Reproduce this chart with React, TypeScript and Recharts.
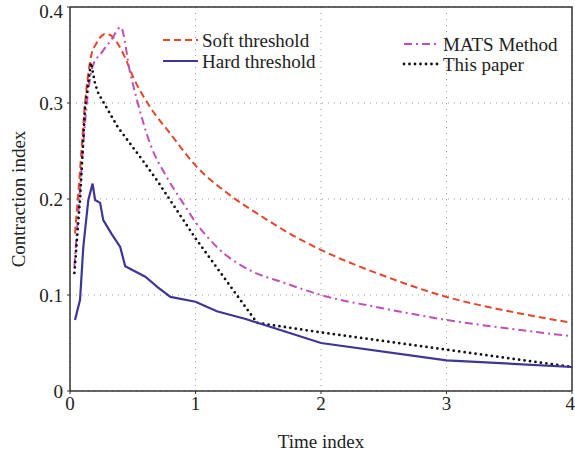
import {
  LineChart,
  Line,
  XAxis,
  YAxis,
  CartesianGrid,
  Label,
} from "recharts";

// Each series has its own x samples
const softThreshold = [
  { x: 0.04, y: 0.164 }, { x: 0.08, y: 0.23 }, { x: 0.12, y: 0.3 },
  { x: 0.17, y: 0.35 }, { x: 0.21, y: 0.362 }, { x: 0.28, y: 0.372 },
  { x: 0.33, y: 0.37 }, { x: 0.38, y: 0.362 }, { x: 0.44, y: 0.347 },
  { x: 0.5, y: 0.328 }, { x: 0.637, y: 0.296 }, { x: 0.8, y: 0.268 },
  { x: 1.0, y: 0.235 }, { x: 1.275, y: 0.204 }, { x: 1.514, y: 0.183 },
  { x: 1.75, y: 0.164 }, { x: 2.0, y: 0.147 }, { x: 2.5, y: 0.12 },
  { x: 3.0, y: 0.098 }, { x: 3.5, y: 0.083 }, { x: 4.0, y: 0.071 },
];

const hardThreshold = [
  { x: 0.04, y: 0.074 }, { x: 0.08, y: 0.095 }, { x: 0.106, y: 0.15 },
  { x: 0.146, y: 0.199 }, { x: 0.18, y: 0.216 }, { x: 0.2, y: 0.199 },
  { x: 0.24, y: 0.196 }, { x: 0.265, y: 0.178 }, { x: 0.33, y: 0.164 },
  { x: 0.4, y: 0.15 }, { x: 0.44, y: 0.13 }, { x: 0.6, y: 0.119 },
  { x: 0.7, y: 0.108 }, { x: 0.8, y: 0.098 }, { x: 1.0, y: 0.093 },
  { x: 1.17, y: 0.083 }, { x: 1.4, y: 0.075 }, { x: 2.0, y: 0.05 },
  { x: 3.0, y: 0.032 }, { x: 4.0, y: 0.025 },
];

const matsMethod = [
  { x: 0.035, y: 0.13 }, { x: 0.08, y: 0.21 }, { x: 0.12, y: 0.28 },
  { x: 0.18, y: 0.338 }, { x: 0.25, y: 0.352 }, { x: 0.33, y: 0.366 },
  { x: 0.404, y: 0.379 }, { x: 0.48, y: 0.331 }, { x: 0.53, y: 0.305 },
  { x: 0.637, y: 0.258 }, { x: 0.77, y: 0.223 }, { x: 0.9, y: 0.196 },
  { x: 1.0, y: 0.176 }, { x: 1.17, y: 0.15 }, { x: 1.43, y: 0.126 },
  { x: 1.7, y: 0.113 }, { x: 2.0, y: 0.1 }, { x: 2.5, y: 0.086 },
  { x: 3.0, y: 0.074 }, { x: 3.5, y: 0.065 }, { x: 4.0, y: 0.057 },
];

const thisPaper = [
  { x: 0.035, y: 0.123 }, { x: 0.08, y: 0.2 }, { x: 0.12, y: 0.296 },
  { x: 0.167, y: 0.342 }, { x: 0.2, y: 0.32 }, { x: 0.226, y: 0.31 },
  { x: 0.38, y: 0.275 }, { x: 0.58, y: 0.24 }, { x: 0.69, y: 0.22 },
  { x: 1.0, y: 0.159 }, { x: 1.49, y: 0.071 }, { x: 2.0, y: 0.061 },
  { x: 3.0, y: 0.043 }, { x: 4.0, y: 0.025 },
];

const xTicks = [0, 1, 2, 3, 4];
const yTicks = [0, 0.1, 0.2, 0.3, 0.4];

const FONT = "'Liberation Serif', 'Times New Roman', serif";
const FS = 19;
const AXIS = "#333";

const legendItems = [
  { name: "Soft threshold", color: "#e2472c", dash: "7 4", cap: "butt", width: 2, x: 163, y: 40 },
  { name: "Hard threshold", color: "#3f3597", dash: undefined, cap: "butt", width: 2.2, x: 163, y: 61 },
  { name: "MATS Method", color: "#c24fb4", dash: "8 4 2 4", cap: "butt", width: 2, x: 404, y: 44 },
  { name: "This paper", color: "#111", dash: "0 5.5", cap: "round", width: 2.8, x: 404, y: 64 },
];

export default function App() {
  return (
    <div style={{ position: "absolute", left: 0, top: 0, width: 575, height: 459, background: "#fff" }}>
      <LineChart
        width={575}
        height={459}
        margin={{ top: 7, right: 3, left: 0, bottom: 0 }}
      >
        <CartesianGrid
          stroke="#999"
          strokeDasharray="1 5"
          horizontalValues={yTicks}
          verticalValues={xTicks}
        />
        <XAxis
          dataKey="x"
          type="number"
          domain={[0, 4]}
          ticks={xTicks}
          allowDuplicatedCategory={false}
          height={68}
          tick={{ fill: "#222", fontSize: FS, fontFamily: FONT }}
          tickSize={3}
          tickMargin={3}
          axisLine={{ stroke: AXIS, strokeWidth: 1.5 }}
          tickLine={{ stroke: AXIS }}
        >
          <Label
            value="Time index"
            position="insideBottom"
            offset={11}
            style={{ fill: "#222", fontSize: FS, fontFamily: FONT }}
          />
        </XAxis>
        <YAxis
          type="number"
          domain={[0, 0.4]}
          ticks={yTicks}
          width={70}
          tick={{ fill: "#222", fontSize: FS, fontFamily: FONT }}
          tickFormatter={(v: number) => `${v}`}
          tickSize={3}
          tickMargin={4}
          axisLine={{ stroke: AXIS, strokeWidth: 1.5 }}
          tickLine={{ stroke: AXIS }}
        >
          <Label
            value="Contraction index"
            angle={-90}
            position="center"
            dx={-17}
            style={{ fill: "#222", fontSize: FS, fontFamily: FONT, textAnchor: "middle" }}
          />
        </YAxis>
        <Line
          data={softThreshold}
          dataKey="y"
          type="monotone"
          stroke="#e2472c"
          strokeWidth={2}
          strokeDasharray="7 4"
          dot={false}
          isAnimationActive={false}
        />
        <Line
          data={matsMethod}
          dataKey="y"
          type="monotone"
          stroke="#c24fb4"
          strokeWidth={2}
          strokeDasharray="8 4 2 4"
          dot={false}
          isAnimationActive={false}
        />
        <Line
          data={thisPaper}
          dataKey="y"
          type="linear"
          stroke="#111"
          strokeWidth={2.8}
          strokeDasharray="0 5.5"
          strokeLinecap="round"
          dot={false}
          isAnimationActive={false}
        />
        <Line
          data={hardThreshold}
          dataKey="y"
          type="linear"
          stroke="#3f3597"
          strokeWidth={2.2}
          dot={false}
          isAnimationActive={false}
        />
      </LineChart>
      {/* frame top/right + legend overlay */}
      <svg
        width={575}
        height={459}
        style={{ position: "absolute", left: 0, top: 0, pointerEvents: "none" }}
      >
        <polyline points="70,7 572,7 572,391" fill="none" stroke={AXIS} strokeWidth={1.5} />
        {legendItems.map((it) => (
          <g key={it.name}>
            <line
              x1={it.x}
              x2={it.x + 35}
              y1={it.y}
              y2={it.y}
              stroke={it.color}
              strokeWidth={it.width}
              strokeDasharray={it.dash}
              strokeLinecap={it.cap as "butt" | "round"}
            />
            <text
              x={it.x + 39}
              y={it.y}
              dominantBaseline="central"
              fontSize={FS}
              fontFamily={FONT}
              fill="#222"
            >
              {it.name}
            </text>
          </g>
        ))}
      </svg>
    </div>
  );
}
